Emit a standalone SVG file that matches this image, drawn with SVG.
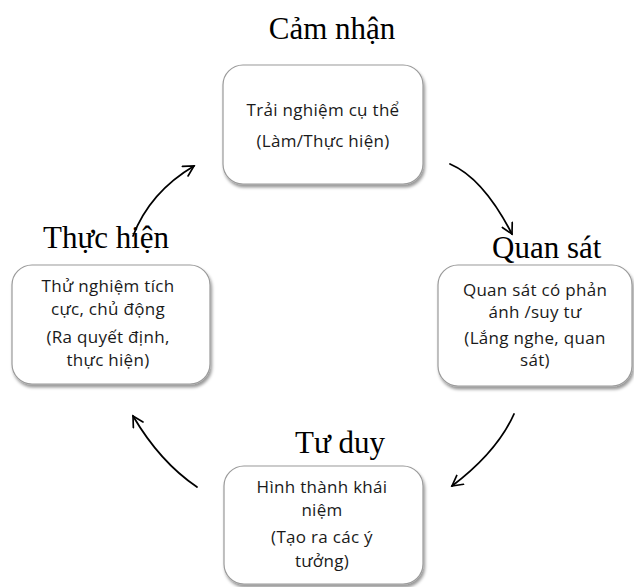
<svg xmlns="http://www.w3.org/2000/svg" width="634" height="587" viewBox="0 0 634 587">
  <style>
    .box { fill: #ffffff; stroke: #9a9a9a; stroke-width: 1.2; filter: url(#shadow); }
    .txt { font-family: "Open Sans", "Noto Sans", "DejaVu Sans", sans-serif; font-size: 17px; letter-spacing: 0.3px; fill: #1a1a1a; text-anchor: middle; }
    .lbl { font-family: "Liberation Serif", "Times New Roman", serif; font-size: 31px; fill: #000000; }
    .arc { fill: none; stroke: #000000; stroke-width: 1.8; stroke-linecap: round; marker-end: url(#head); }
  </style>
  <defs>
    <filter id="shadow" x="-10%" y="-10%" width="125%" height="130%">
      <feDropShadow dx="1.5" dy="3" stdDeviation="1.6" flood-color="#000000" flood-opacity="0.4"/>
    </filter>
    <marker id="head" viewBox="0 0 14 14" refX="12" refY="7" markerWidth="13" markerHeight="13" markerUnits="userSpaceOnUse" orient="auto">
      <path d="M1,1 L12,7 L1,13" fill="none" stroke="#000000" stroke-width="1.8" stroke-linecap="round" stroke-linejoin="miter"/>
    </marker>
  </defs>

  <rect width="634" height="587" fill="#ffffff"/>

  <!-- cycle arrows -->
  <g id="connectors">
    <path class="arc" d="M450,164 Q483,178 512,234"/>
    <path class="arc" d="M514,414 Q497,452 452,486"/>
    <path class="arc" d="M197,487 Q160,462 133,416"/>
    <path class="arc" d="M133,236 Q150,192 194,166"/>
  </g>

  <!-- stage captions -->
  <text class="lbl" x="332" y="39" text-anchor="middle">Cảm nhận</text>
  <text class="lbl" x="492" y="258">Quan sát</text>
  <text class="lbl" x="43" y="248">Thực hiện</text>
  <text class="lbl" x="295" y="453">Tư duy</text>

  <g id="node-concrete">
    <rect class="box" x="223" y="65" width="200" height="119" rx="20"/>
    <text class="txt" x="323" y="116">Trải nghiệm cụ thể</text>
    <text class="txt" x="323" y="147">(Làm/Thực hiện)</text>
  </g>

  <g id="node-reflect">
    <rect class="box" x="438" y="265" width="194" height="121" rx="20"/>
    <text class="txt" x="535" y="296">Quan sát có phản</text>
    <text class="txt" x="535" y="318">ánh /suy tư</text>
    <text class="txt" x="535" y="344">(Lắng nghe, quan</text>
    <text class="txt" x="535" y="366">sát)</text>
  </g>

  <g id="node-active">
    <rect class="box" x="12" y="265" width="198" height="119" rx="20"/>
    <text class="txt" x="108" y="292">Thử nghiệm tích</text>
    <text class="txt" x="108" y="315">cực, chủ động</text>
    <text class="txt" x="108" y="343">(Ra quyết định,</text>
    <text class="txt" x="108" y="366">thực hiện)</text>
  </g>

  <g id="node-abstract">
    <rect class="box" x="224" y="466" width="199" height="118" rx="20"/>
    <text class="txt" x="322" y="493">Hình thành khái</text>
    <text class="txt" x="322" y="516">niệm</text>
    <text class="txt" x="322" y="543">(Tạo ra các ý</text>
    <text class="txt" x="322" y="567">tưởng)</text>
  </g>
</svg>
